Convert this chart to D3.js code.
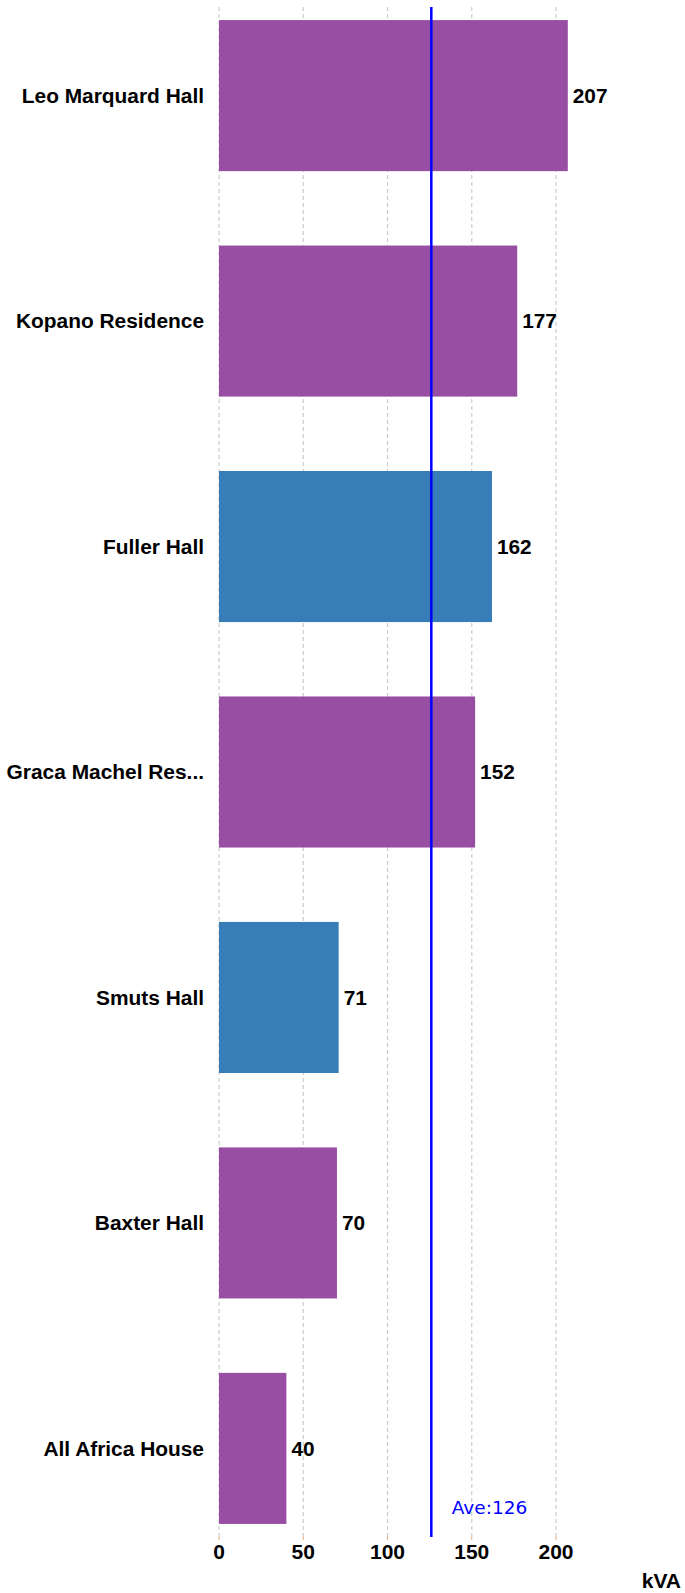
<!DOCTYPE html>
<html>
<head>
<meta charset="utf-8">
<script src="https://cdn.jsdelivr.net/npm/d3@7"></script>
<style>
  html, body { margin: 0; padding: 0; background: #fff; }
  svg { display: block; }
</style>
</head>
<body>
<svg id="chart" width="685" height="1593"></svg>
<script>
const categories = ["Leo Marquard Hall", "Kopano Residence", "Fuller Hall", "Graca Machel Res...", "Smuts Hall", "Baxter Hall", "All Africa House"];
const values = [207, 177, 162, 152, 71, 70, 40];
const groups = ["purple", "purple", "blue", "purple", "blue", "purple", "purple"];
const tickValues = [0, 50, 100, 150, 200];
const average = 126;
const averageLabel = "Ave:126";
const unitLabel = "kVA";

(function () {
const colorMap = { purple: "#984ea3", blue: "#377eb8" };

const svg = d3.select("#chart");
const plotTop = 7, plotBottom = 1537, plotLeft = 219;

const x = d3.scaleLinear().domain([0, 240]).range([plotLeft, plotLeft + 240 * 1.685]);
const y = d3.scaleBand().domain(categories).range([plotTop, plotBottom]).paddingInner(0.33).paddingOuter(0.058);

// grid
svg.append("g").selectAll("line").data(tickValues).join("line")
  .attr("x1", d => x(d)).attr("x2", d => x(d))
  .attr("y1", plotTop).attr("y2", plotBottom)
  .attr("stroke", "#cccccc").attr("stroke-width", 1.2)
  .attr("stroke-dasharray", "4,3");

// tick marks
svg.append("g").selectAll("line").data(tickValues).join("line")
  .attr("x1", d => x(d)).attr("x2", d => x(d))
  .attr("y1", plotBottom).attr("y2", plotBottom + 3)
  .attr("stroke", "#f4a460").attr("stroke-width", 1);

// bars
svg.append("g").selectAll("rect").data(categories).join("rect")
  .attr("x", x(0))
  .attr("y", d => y(d))
  .attr("width", (d, i) => x(values[i]) - x(0))
  .attr("height", y.bandwidth())
  .attr("fill", (d, i) => colorMap[groups[i]]);

// category labels
svg.append("g").selectAll("text").data(categories).join("text")
  .attr("x", plotLeft - 15)
  .attr("y", d => y(d) + y.bandwidth() / 2)
  .attr("dy", "0.35em")
  .attr("text-anchor", "end")
  .attr("font-family", "Liberation Sans, Arial, sans-serif")
  .attr("font-weight", "bold")
  .attr("font-size", 20.9)
  .attr("fill", "#000")
  .text(d => d);

// value labels
svg.append("g").selectAll("text").data(categories).join("text")
  .attr("x", (d, i) => x(values[i]) + 5)
  .attr("y", d => y(d) + y.bandwidth() / 2)
  .attr("dy", "0.35em")
  .attr("font-family", "Liberation Sans, Arial, sans-serif")
  .attr("font-weight", "bold")
  .attr("font-size", 20.8)
  .attr("fill", "#000")
  .text((d, i) => values[i]);

// tick labels
svg.append("g").selectAll("text").data(tickValues).join("text")
  .attr("x", d => x(d))
  .attr("y", 1559)
  .attr("text-anchor", "middle")
  .attr("font-family", "Liberation Sans, Arial, sans-serif")
  .attr("font-weight", "bold")
  .attr("font-size", 21)
  .attr("fill", "#000")
  .text(d => d);

// average line
svg.append("line")
  .attr("x1", x(average)).attr("x2", x(average))
  .attr("y1", plotTop).attr("y2", plotBottom)
  .attr("stroke", "#0000ff").attr("stroke-width", 2.5);

svg.append("text")
  .attr("x", x(average) + 20.5)
  .attr("y", 1514)
  .attr("font-family", "DejaVu Sans, Verdana, sans-serif")
  .attr("font-size", 18.5)
  .attr("fill", "#0000ff")
  .text(averageLabel);

// unit label
svg.append("text")
  .attr("x", 681)
  .attr("y", 1588)
  .attr("text-anchor", "end")
  .attr("font-family", "Liberation Sans, Arial, sans-serif")
  .attr("font-weight", "bold")
  .attr("font-size", 21)
  .attr("fill", "#000")
  .text(unitLabel);
})();
</script>
</body>
</html>
